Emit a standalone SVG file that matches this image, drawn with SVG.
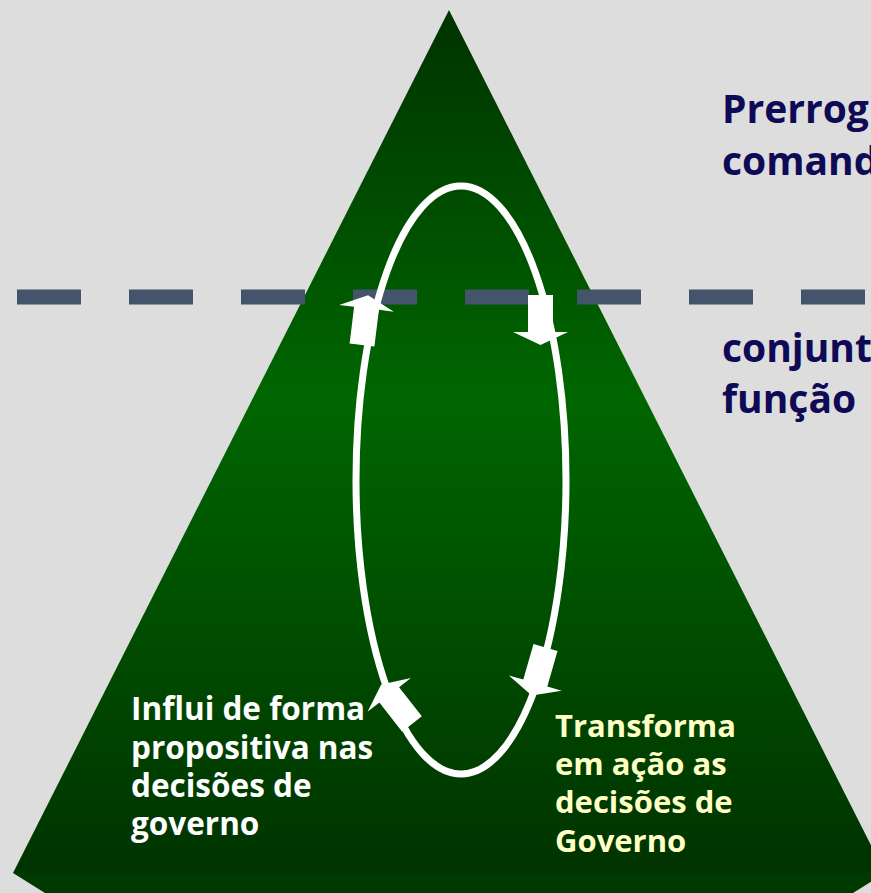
<svg xmlns="http://www.w3.org/2000/svg" xmlns:xlink="http://www.w3.org/1999/xlink" width="871" height="893" viewBox="0 0 871 893">
<style>
.t{font-family:"Open Sans","Noto Sans","DejaVu Sans",sans-serif;font-weight:bold}
.nav{fill:#0E0A55;font-size:39px}
.wt{fill:#FFFFFF;font-size:31.5px}
.yl{fill:#FFFFC6;font-size:31px}
.arr{fill:#FFFFFF}
</style>
<defs>
<linearGradient id="g" x1="0" y1="10" x2="0" y2="873" gradientUnits="userSpaceOnUse">
<stop offset="0" stop-color="#003300"/>
<stop offset="0.45" stop-color="#006600"/>
<stop offset="1" stop-color="#003300"/>
</linearGradient>
<path id="arrUp" d="M-12.5,0 L12.5,0 L12.5,-37 L27.5,-37 L0,-50 L-27.5,-37 L-12.5,-37 Z"/>
</defs>
<rect width="871" height="893" fill="#DDDDDD"/>
<g id="pyramid">
<polygon points="449,10 885,873 13,873" fill="url(#g)"/>
<polygon points="13,873 885,873 853,893 45,893" fill="#003A00"/>
</g>
<g id="divider">
<line x1="17" y1="297" x2="871" y2="297" stroke="#44546A" stroke-width="15" stroke-dasharray="64 48"/>
</g>
<g id="connectors">
<ellipse cx="461" cy="480" rx="105" ry="294" fill="none" stroke="#FFFFFF" stroke-width="7"/>
<use xlink:href="#arrUp" class="arr" transform="translate(362,345) rotate(7)"/>
<use xlink:href="#arrUp" class="arr" transform="translate(540.5,295) rotate(180)"/>
<use xlink:href="#arrUp" class="arr" transform="translate(545.5,647.5) rotate(196)"/>
<use xlink:href="#arrUp" class="arr" transform="translate(412,724) rotate(-38)"/>
</g>
<g id="label-top">
<text class="t nav" x="722" y="123">Prerrog</text>
<text class="t nav" x="722" y="175">comand</text>
</g>
<g id="label-middle">
<text class="t nav" x="722" y="362">conjunt</text>
<text class="t nav" x="722" y="413">função</text>
</g>
<g id="label-left">
<text class="t wt" x="131" y="720">Influi de forma</text>
<text class="t wt" x="131" y="759">propositiva nas</text>
<text class="t wt" x="131" y="797">decisões de</text>
<text class="t wt" x="131" y="835">governo</text>
</g>
<g id="label-right">
<text class="t yl" x="555" y="737">Transforma</text>
<text class="t yl" x="555" y="775">em ação as</text>
<text class="t yl" x="555" y="813">decisões de</text>
<text class="t yl" x="555" y="852">Governo</text>
</g>
</svg>
